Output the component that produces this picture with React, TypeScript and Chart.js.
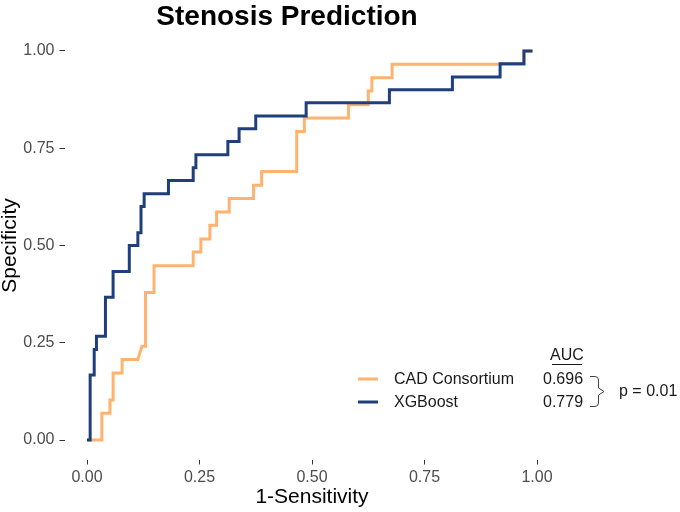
import React, { useEffect, useRef } from 'react';
import { Chart, registerables } from 'chart.js';

Chart.register(...registerables);

const TITLE = 'Stenosis Prediction';
const X_TITLE = '1-Sensitivity';
const Y_TITLE = 'Specificity';
const TICKS = [0, 0.25, 0.5, 0.75, 1];
const SERIES_NAMES = ['CAD Consortium', 'XGBoost'];
const AUC_HEADER = 'AUC';
const AUC_VALUES = ['0.696', '0.779'];
const P_TEXT = 'p = 0.01';
const COLORS = ['#FFB36E', '#1F3E7C'];

// ROC vertices (x = 1-Sensitivity, y = Specificity)
const cadX = [0, 0.033, 0.033, 0.051, 0.051, 0.058, 0.058, 0.078, 0.078, 0.113, 0.122, 0.13, 0.13, 0.149, 0.149, 0.236, 0.236, 0.253, 0.253, 0.273, 0.273, 0.288, 0.288, 0.316, 0.316, 0.37, 0.37, 0.388, 0.388, 0.466, 0.466, 0.483, 0.483, 0.581, 0.581, 0.625, 0.625, 0.633, 0.633, 0.678, 0.678, 0.971, 0.971, 0.99];
const cadY = [0, 0, 0.069, 0.069, 0.103, 0.103, 0.172, 0.172, 0.207, 0.207, 0.241, 0.241, 0.379, 0.379, 0.448, 0.448, 0.483, 0.483, 0.517, 0.517, 0.552, 0.552, 0.586, 0.586, 0.621, 0.621, 0.655, 0.655, 0.69, 0.69, 0.793, 0.793, 0.828, 0.828, 0.862, 0.862, 0.897, 0.897, 0.931, 0.931, 0.966, 0.966, 1, 1];

const xgbX = [0, 0.007, 0.007, 0.016, 0.016, 0.021, 0.021, 0.041, 0.041, 0.058, 0.058, 0.094, 0.094, 0.113, 0.113, 0.12, 0.12, 0.127, 0.127, 0.181, 0.181, 0.236, 0.236, 0.242, 0.242, 0.313, 0.313, 0.338, 0.338, 0.375, 0.375, 0.487, 0.487, 0.672, 0.672, 0.812, 0.812, 0.918, 0.918, 0.971, 0.971, 0.99];
const xgbY = [0, 0, 0.167, 0.167, 0.233, 0.233, 0.267, 0.267, 0.367, 0.367, 0.433, 0.433, 0.5, 0.5, 0.533, 0.533, 0.6, 0.6, 0.633, 0.633, 0.667, 0.667, 0.7, 0.7, 0.733, 0.733, 0.767, 0.767, 0.8, 0.8, 0.833, 0.833, 0.867, 0.867, 0.9, 0.9, 0.933, 0.933, 0.967, 0.967, 1, 1];

const toPoints = (xs: number[], ys: number[]) => xs.map((x, i) => ({ x, y: ys[i] }));

const TEXT_FONT = '"Liberation Sans", Arial, sans-serif';

const annotationPlugin = {
  id: 'annotations',
  afterDraw(chart: any) {
    const ctx = chart.ctx as CanvasRenderingContext2D;
    ctx.save();
    // title
    ctx.fillStyle = '#000';
    ctx.font = `bold 28px ${TEXT_FONT}`;
    ctx.textAlign = 'center';
    ctx.textBaseline = 'middle';
    ctx.fillText(TITLE, 287, 17);

    // legend
    const rowsY = [380, 403];
    ctx.font = `16px ${TEXT_FONT}`;
    ctx.textBaseline = 'middle';
    chart.data.datasets.forEach((ds: any, i: number) => {
      const y = rowsY[i];
      ctx.strokeStyle = ds.borderColor;
      ctx.lineWidth = 3;
      ctx.beginPath();
      ctx.moveTo(358, y - 1);
      ctx.lineTo(378, y - 1);
      ctx.stroke();
      ctx.fillStyle = '#1a1a1a';
      ctx.textAlign = 'left';
      ctx.fillText(ds.label, 394, y);
      ctx.fillText(AUC_VALUES[i], 543, y);
    });
    // AUC header
    ctx.textAlign = 'center';
    ctx.fillText(AUC_HEADER, 567, 356);
    ctx.strokeStyle = '#1a1a1a';
    ctx.lineWidth = 1;
    ctx.beginPath();
    ctx.moveTo(552, 364.5);
    ctx.lineTo(582, 364.5);
    ctx.stroke();
    // brace
    ctx.strokeStyle = '#444';
    ctx.beginPath();
    ctx.moveTo(590, 376.5);
    ctx.lineTo(595, 376.5);
    ctx.quadraticCurveTo(598.5, 376.5, 598.5, 380);
    ctx.lineTo(598.5, 388);
    ctx.lineTo(604, 391.5);
    ctx.lineTo(598.5, 395);
    ctx.lineTo(598.5, 403);
    ctx.quadraticCurveTo(598.5, 406.5, 595, 406.5);
    ctx.lineTo(590, 406.5);
    ctx.stroke();
    ctx.textAlign = 'left';
    ctx.fillText(P_TEXT, 619, 392);
    ctx.restore();
  },
};

export default function App() {
  const canvasRef = useRef<HTMLCanvasElement | null>(null);

  useEffect(() => {
    const canvas = canvasRef.current;
    if (!canvas) return;
    const tickStyle = {
      color: '#4D4D4D',
      font: { family: TEXT_FONT, size: 16 },
      padding: 5,
      autoSkip: false,
      maxRotation: 0,
      callback: (v: any) => Number(v).toFixed(2),
    };
    const gridStyle = {
      display: true,
      drawOnChartArea: false,
      drawTicks: true,
      tickLength: 5,
      color: '#333333',
      lineWidth: 1,
    };
    const chart = new Chart(canvas, {
      type: 'line',
      data: {
        datasets: [
          {
            label: SERIES_NAMES[0],
            data: toPoints(cadX, cadY),
            borderColor: COLORS[0],
            backgroundColor: COLORS[0],
            borderWidth: 3,
            pointRadius: 0,
            tension: 0,
            fill: false,
            order: 1,
          },
          {
            label: SERIES_NAMES[1],
            data: toPoints(xgbX, xgbY),
            borderColor: COLORS[1],
            backgroundColor: COLORS[1],
            borderWidth: 3,
            pointRadius: 0,
            tension: 0,
            fill: false,
            order: 0,
          },
        ],
      },
      options: {
        animation: false,
        responsive: false,
        devicePixelRatio: 1,
        layout: { padding: { top: 31.5, right: 120.5, left: 0, bottom: 0 } },
        plugins: {
          legend: { display: false },
          tooltip: { enabled: false },
          title: { display: false },
        },
        scales: {
          x: {
            type: 'linear',
            min: -0.05,
            max: 1.05,
            afterBuildTicks: (s: any) => {
              s.ticks = TICKS.map((v) => ({ value: v }));
            },
            afterFit: (s: any) => {
              s.height = 52.5;
            },
            ticks: { ...tickStyle, padding: 3 },
            grid: gridStyle,
            border: { display: false },
            title: {
              display: true,
              text: X_TITLE,
              color: '#000',
              font: { family: TEXT_FONT, size: 21, lineHeight: 1 },
              padding: { top: 0, bottom: 4.5 },
            },
          },
          y: {
            type: 'linear',
            min: -0.05,
            max: 1.05,
            afterBuildTicks: (s: any) => {
              s.ticks = TICKS.map((v) => ({ value: v }));
            },
            afterFit: (s: any) => {
              s.width = 64.5;
            },
            ticks: tickStyle,
            grid: gridStyle,
            border: { display: false },
            title: {
              display: true,
              text: Y_TITLE,
              color: '#000',
              font: { family: TEXT_FONT, size: 21, lineHeight: 1 },
              padding: { top: 0, bottom: 0 },
            },
          },
        },
      } as any,
      plugins: [annotationPlugin],
    });
    return () => chart.destroy();
  }, []);

  return (
    <div style={{ position: 'fixed', left: 0, top: 0, width: 680, height: 512, background: '#fff' }}>
      <canvas ref={canvasRef} width={680} height={512} style={{ display: 'block' }} />
    </div>
  );
}
